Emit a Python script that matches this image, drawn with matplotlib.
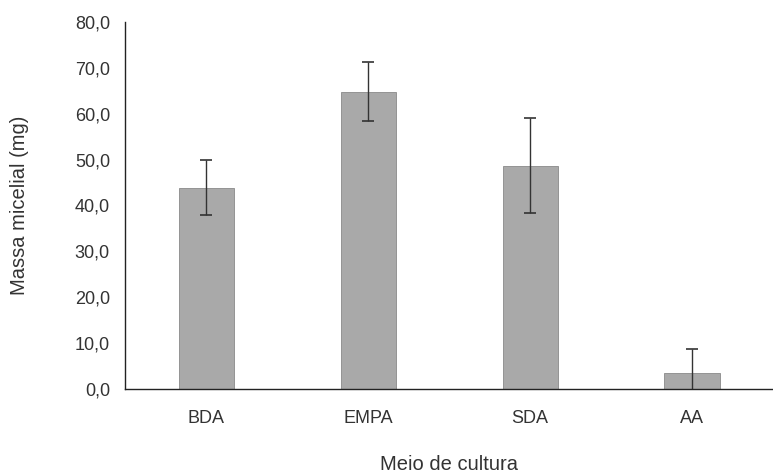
import matplotlib
matplotlib.use("Agg")
import matplotlib.pyplot as plt
from matplotlib.ticker import FuncFormatter

plt.rcParams['font.family'] = ['Liberation Sans', 'DejaVu Sans']

# valores
meios = ['BDA', 'EMPA', 'SDA', 'AA']
massa = [43.9, 64.8, 48.7, 3.5]
erro = [6.0, 6.4, 10.4, 5.3]
yticks = [0, 10, 20, 30, 40, 50, 60, 70, 80]

fig = plt.figure(figsize=(7.73, 4.74), dpi=100)
ax = fig.add_axes([0.162, 0.179, 0.838, 0.775])

x = list(range(len(meios)))
ax.bar(x, massa, width=0.34, color='#a9a9a9', edgecolor='#8a8a8a', linewidth=0.6,
       yerr=erro, capsize=4, error_kw=dict(ecolor='#333333', elinewidth=1.0, capthick=1.2))

ax.set_xlim(-0.5, len(meios) - 0.5)
ax.set_ylim(0, 80)
ax.set_yticks(yticks)
ax.yaxis.set_major_formatter(FuncFormatter(lambda v, p: f"{v:.1f}".replace('.', ',')))
ax.set_xticks(x)
ax.set_xticklabels(meios)
ax.tick_params(axis='both', length=0, labelsize=13, colors='#333333')
ax.tick_params(axis='x', pad=15)
ax.tick_params(axis='y', pad=11)

for s in ['top', 'right']:
    ax.spines[s].set_visible(False)
for s in ['left', 'bottom']:
    ax.spines[s].set_color('#222222')
    ax.spines[s].set_linewidth(1.0)

ax.set_ylabel('Massa micelial (mg)', fontsize=14.5, color='#333333', labelpad=33)
ax.set_xlabel('Meio de cultura', fontsize=14.5, color='#333333', labelpad=20)

fig.savefig('out.png', dpi=100)
